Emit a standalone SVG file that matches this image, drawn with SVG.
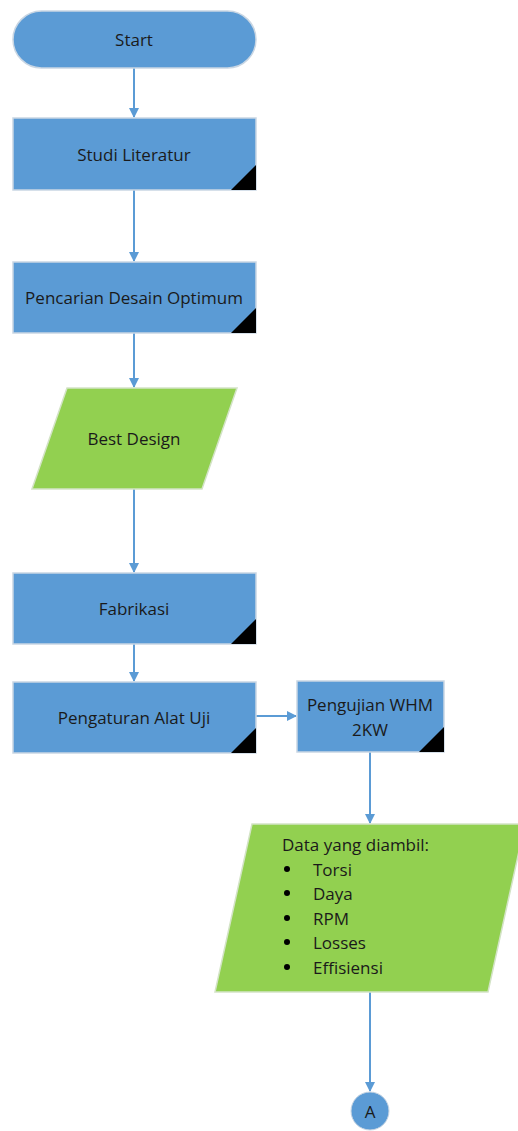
<svg xmlns="http://www.w3.org/2000/svg" width="518" height="1131" viewBox="0 0 518 1131">
<style>
.blue{fill:#5B9BD5;stroke:#C9D6E3;stroke-width:1.5}
.green{fill:#92D050;stroke:#D3E3C6;stroke-width:1.5}
.corner{fill:#000}
.t{font-family:"Open Sans","Liberation Sans",sans-serif;font-size:17px;fill:#1a1a1a;text-anchor:middle;dominant-baseline:central}
.l{font-family:"Open Sans","Liberation Sans",sans-serif;font-size:17px;fill:#1a1a1a}
.c{stroke:#5B9BD5;stroke-width:2;fill:none}
</style>
<defs>
<marker id="ah" markerWidth="10" markerHeight="10" refX="9" refY="5" orient="auto" markerUnits="userSpaceOnUse" viewBox="0 0 10 10">
<path d="M0,0 L10,5 L0,10 z" fill="#5B9BD5"/>
</marker>
</defs>
<rect width="518" height="1131" fill="#fff"/>
<g id="connectors">
<line class="c" x1="134" y1="68" x2="134" y2="117" marker-end="url(#ah)"/>
<line class="c" x1="134" y1="190" x2="134" y2="261" marker-end="url(#ah)"/>
<line class="c" x1="134" y1="333" x2="134" y2="387" marker-end="url(#ah)"/>
<line class="c" x1="134" y1="489" x2="134" y2="572" marker-end="url(#ah)"/>
<line class="c" x1="134" y1="644" x2="134" y2="681" marker-end="url(#ah)"/>
<line class="c" x1="256" y1="716" x2="296" y2="716" marker-end="url(#ah)"/>
<line class="c" x1="370" y1="752" x2="370" y2="823" marker-end="url(#ah)"/>
<line class="c" x1="370" y1="992" x2="370" y2="1091" marker-end="url(#ah)"/>
</g>
<g id="start">
<rect class="blue" x="13" y="11" width="243" height="57" rx="28.5"/>
<text class="t" x="134" y="39">Start</text>
</g>
<g id="studi">
<rect class="blue" x="13" y="118" width="243" height="72"/>
<path class="corner" d="M256,165 L256,190 L231,190 z"/>
<text class="t" x="134" y="154">Studi Literatur</text>
</g>
<g id="pencarian">
<rect class="blue" x="13" y="262" width="243" height="71"/>
<path class="corner" d="M256,308 L256,333 L231,333 z"/>
<text class="t" x="134" y="297">Pencarian Desain Optimum</text>
</g>
<g id="best">
<path class="green" d="M67,388 L237,388 L202,489 L32,489 z"/>
<text class="t" x="134" y="438">Best Design</text>
</g>
<g id="fabrikasi">
<rect class="blue" x="13" y="573" width="243" height="71"/>
<path class="corner" d="M256,619 L256,644 L231,644 z"/>
<text class="t" x="134" y="608">Fabrikasi</text>
</g>
<g id="pengaturan">
<rect class="blue" x="13" y="682" width="243" height="71"/>
<path class="corner" d="M256,728 L256,753 L231,753 z"/>
<text class="t" x="134" y="717">Pengaturan Alat Uji</text>
</g>
<g id="pengujian">
<rect class="blue" x="297" y="681" width="147" height="71"/>
<path class="corner" d="M444,727 L444,752 L419,752 z"/>
<text class="t" x="370" y="704">Pengujian WHM</text>
<text class="t" x="370" y="729">2KW</text>
</g>
<g id="data">
<path class="green" d="M252,824 L525,824 L488,992 L215,992 z"/>
<text class="l" x="282" y="844" dominant-baseline="central">Data yang diambil:</text>
<g>
<circle cx="287" cy="869" r="3" fill="#000"/>
<circle cx="287" cy="893" r="3" fill="#000"/>
<circle cx="287" cy="918" r="3" fill="#000"/>
<circle cx="287" cy="942" r="3" fill="#000"/>
<circle cx="287" cy="967" r="3" fill="#000"/>
</g>
<text class="l" x="313" y="869" dominant-baseline="central">Torsi</text>
<text class="l" x="313" y="893" dominant-baseline="central">Daya</text>
<text class="l" x="313" y="918" dominant-baseline="central">RPM</text>
<text class="l" x="313" y="942" dominant-baseline="central">Losses</text>
<text class="l" x="313" y="967" dominant-baseline="central">Effisiensi</text>
</g>
<g id="connectorA">
<circle cx="370" cy="1111" r="19" fill="#5B9BD5" stroke="#C9D6E3" stroke-width="1"/>
<text class="t" x="370" y="1111">A</text>
</g>
</svg>
